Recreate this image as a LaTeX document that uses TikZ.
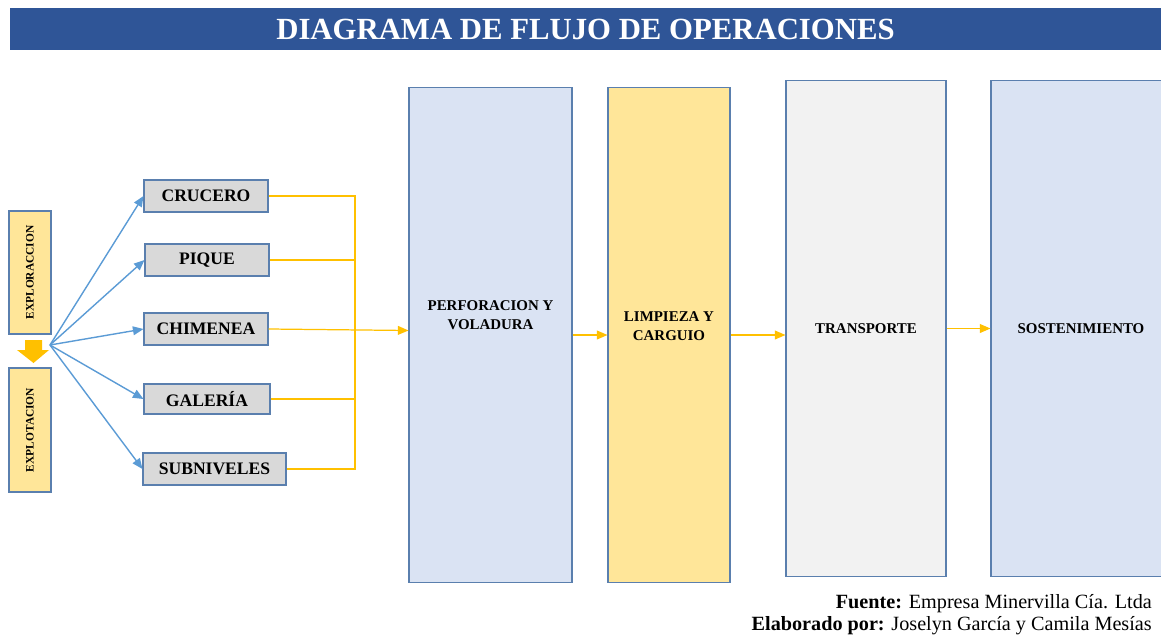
\documentclass[tikz,border=0pt]{standalone}
\usepackage{fontspec}
\setmainfont{Liberation Serif}
\usetikzlibrary{arrows.meta}
\definecolor{titleblue}{HTML}{2F5597}
\definecolor{edgeblue}{HTML}{5A7FAE}
\definecolor{paleyellow}{HTML}{FFE699}
\definecolor{paleblue}{HTML}{DAE3F3}
\definecolor{palegray}{HTML}{F2F2F2}
\definecolor{boxgray}{HTML}{D9D9D9}
\definecolor{arrowblue}{HTML}{5B9BD5}
\definecolor{gold}{HTML}{FFC000}
\begin{document}
\begin{tikzpicture}[x=0.02cm, y=-0.02cm,
    phase/.style={rectangle, draw=edgeblue, fill=paleyellow, line width=0.6pt, minimum width=0.84cm, inner sep=0pt},
    work/.style={rectangle, draw=edgeblue, fill=boxgray, line width=0.6pt, minimum height=0.64cm, inner sep=0pt, font=\fontsize{10}{12}\selectfont\bfseries},
    stage/.style={rectangle, draw=edgeblue, line width=0.6pt, minimum height=9.92cm, inner sep=0pt, align=center, font=\fontsize{8.5}{10.5}\selectfont\bfseries},
    fan/.style={draw=arrowblue, line width=0.8pt, -{Triangle[length=6pt,width=5pt]}},
    feed/.style={draw=gold, line width=0.7pt},
    flow/.style={feed, -{Triangle[length=6pt,width=5pt]}}
]
\useasboundingbox (0,0) rectangle (1161,636);

% Title
\node[fill=titleblue, text=white, minimum width=23.02cm, minimum height=0.84cm, inner sep=0pt,
      font=\fontsize{17.5}{20}\selectfont\bfseries] (title) at (585.5,29) {DIAGRAMA DE FLUJO DE OPERACIONES};

% Phases
\node[phase, minimum height=2.46cm] (exploracion) at (30,272.5) {};
\node[rotate=90, font=\fontsize{6.5}{8}\selectfont\bfseries] (exploraciontxt) at (exploracion) {EXPLORACCION};
\node[phase, minimum height=2.48cm] (explotacion) at (30,430) {};
\node[rotate=90, font=\fontsize{6.5}{8}\selectfont\bfseries] (explotaciontxt) at (explotacion) {EXPLOTACION};
\fill[gold] (25,340) -- (42,340) -- (42,350) -- (49,350) -- (33.5,363) -- (17,350) -- (25,350) -- cycle;
\coordinate (origin) at (50,345);

% Works
\node[work, minimum width=2.48cm] (crucero) at (206,196) {CRUCERO};
\node[work, minimum width=2.48cm] (pique) at (207,260) {PIQUE};
\node[work, minimum width=2.48cm] (chimenea) at (206,329) {CHIMENEA};
\node[work, minimum width=2.52cm, minimum height=0.6cm] (galeria) at (207,399) {GALERÍA};
\node[work, minimum width=2.86cm] (subniveles) at (214.5,469) {SUBNIVELES};

% Stages
\node[stage, fill=paleblue, minimum width=3.26cm,
      label={[align=center, font=\fontsize{8.5}{10.5}\selectfont\bfseries, yshift=0.4cm]center:PERFORACION Y\\VOLADURA}] (perforacion) at (490.5,335) {};
\node[stage, fill=paleyellow, minimum width=2.44cm,
      label={[align=center, font=\fontsize{8.5}{10.5}\selectfont\bfseries, yshift=0.18cm]center:LIMPIEZA Y\\CARGUIO}] (limpieza) at (669,335) {};
\node[stage, fill=palegray, minimum width=3.2cm, minimum height=9.94cm] (transporte) at (866,328.5) {TRANSPORTE};
\node[stage, fill=paleblue, minimum width=3.6cm, minimum height=9.94cm] (sostenimiento) at (1081,328.5) {SOSTENIMIENTO};

% Fan out
\foreach \w in {crucero, pique, chimenea, galeria, subniveles}
  \draw[fan] (origin) -- (\w.west);

% Collector
\coordinate (bus) at (355,0);
\draw[feed] (crucero.east) -- (crucero.east -| bus) -- (subniveles.east -| bus) -- (subniveles.east);
\draw[feed] (pique.east) -- (pique.east -| bus);
\draw[feed] (galeria.east) -- (galeria.east -| bus);
\draw[flow] (chimenea.east) -- ([yshift=-0.03cm]chimenea.east -| perforacion.west);

% Main flow
\draw[flow] (perforacion.east) -- (limpieza.west);
\draw[flow] (limpieza.east) -- (limpieza.east -| transporte.west);
\draw[flow] (transporte.east) -- (sostenimiento.west);

% Source
\node[anchor=east, font=\fontsize{11.5}{13}\selectfont] (fuente) at (1158,604) {\textbf{Fuente:} Empresa Minervilla Cía. Ltda};
\node[anchor=east, font=\fontsize{11.5}{13}\selectfont] (elaborado) at (1158,626) {\textbf{Elaborado por:} Joselyn García y Camila Mesías};
\end{tikzpicture}
\end{document}
